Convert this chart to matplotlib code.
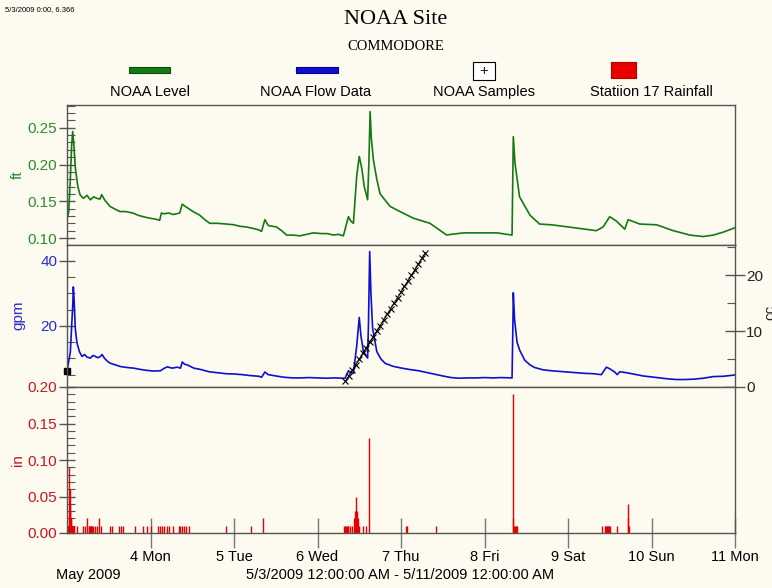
import matplotlib
matplotlib.use("Agg")
import matplotlib.pyplot as plt
from matplotlib.patches import Rectangle
from matplotlib.ticker import MultipleLocator, FixedLocator

# ---- data (x = day of May 2009) ----
level_day = [3.000, 3.020, 3.040, 3.055, 3.068, 3.080, 3.100, 3.130, 3.156, 3.195,
             3.240, 3.280, 3.320, 3.360, 3.395, 3.415, 3.450, 3.515, 3.580, 3.635,
             3.700, 3.790, 3.850, 3.914, 3.990, 4.070, 4.110, 4.130, 4.160, 4.220,
             4.270, 4.350, 4.380, 4.430, 4.510, 4.590, 4.650, 4.710, 4.800, 4.910,
             5.000, 5.070, 5.150, 5.230, 5.300, 5.330, 5.370, 5.410, 5.460, 5.510,
             5.570, 5.630, 5.700, 5.790, 5.870, 5.950, 6.050, 6.120, 6.190, 6.250,
             6.310, 6.370, 6.400, 6.430, 6.470, 6.500, 6.530, 6.560, 6.600, 6.615,
             6.630, 6.645, 6.670, 6.710, 6.750, 6.870, 6.988, 7.147, 7.347, 7.547,
             7.600, 7.750, 7.950, 8.150, 8.330, 8.345, 8.365, 8.420, 8.545, 8.660,
             8.800, 8.940, 9.140, 9.340, 9.420, 9.500, 9.580, 9.680, 9.720, 9.860,
             10.060, 10.260, 10.460, 10.620, 10.740, 10.860, 11.000]
level_ft = [0.125, 0.135, 0.180, 0.225, 0.245, 0.230, 0.195, 0.170, 0.159, 0.154,
            0.158, 0.152, 0.156, 0.154, 0.153, 0.159, 0.152, 0.143, 0.139, 0.136,
            0.136, 0.134, 0.131, 0.129, 0.127, 0.1255, 0.124, 0.134, 0.133, 0.134,
            0.132, 0.134, 0.146, 0.142, 0.136, 0.131, 0.125, 0.120, 0.120, 0.119,
            0.118, 0.116, 0.115, 0.113, 0.111, 0.109, 0.125, 0.117, 0.116, 0.115,
            0.110, 0.104, 0.104, 0.103, 0.105, 0.107, 0.106, 0.106, 0.104, 0.105,
            0.103, 0.129, 0.123, 0.120, 0.185, 0.211, 0.195, 0.170, 0.152, 0.200,
            0.272, 0.235, 0.206, 0.180, 0.160, 0.143, 0.136, 0.127, 0.120, 0.104,
            0.105, 0.107, 0.107, 0.107, 0.104, 0.238, 0.202, 0.156, 0.131, 0.119,
            0.118, 0.116, 0.113, 0.110, 0.115, 0.129, 0.123, 0.112, 0.125, 0.119,
            0.118, 0.110, 0.104, 0.102, 0.104, 0.108, 0.114]

flow_day = [3.000, 3.040, 3.060, 3.070, 3.076, 3.085, 3.100, 3.120, 3.150, 3.180,
            3.210, 3.240, 3.280, 3.310, 3.340, 3.370, 3.400, 3.420, 3.450, 3.490,
            3.520, 3.580, 3.640, 3.720, 3.800, 3.880, 3.960, 4.040, 4.120, 4.160,
            4.200, 4.260, 4.320, 4.360, 4.380, 4.410, 4.440, 4.520, 4.600, 4.700,
            4.800, 4.900, 5.000, 5.100, 5.200, 5.300, 5.330, 5.370, 5.410, 5.500,
            5.600, 5.700, 5.800, 5.900, 6.000, 6.100, 6.200, 6.300, 6.330, 6.370,
            6.400, 6.430, 6.470, 6.500, 6.520, 6.550, 6.600, 6.610, 6.625, 6.640,
            6.660, 6.710, 6.760, 6.810, 6.900, 7.010, 7.100, 7.210, 7.300, 7.410,
            7.500, 7.600, 7.700, 7.800, 7.900, 8.000, 8.100, 8.200, 8.330, 8.340,
            8.345, 8.360, 8.390, 8.420, 8.480, 8.545, 8.600, 8.700, 8.800, 8.900,
            9.000, 9.100, 9.200, 9.300, 9.400, 9.420, 9.460, 9.500, 9.560, 9.590,
            9.620, 9.700, 9.800, 9.900, 10.000, 10.100, 10.200, 10.300, 10.400, 10.500,
            10.620, 10.740, 10.860, 11.000]
flow_gpm = [6.0, 12.0, 22.0, 27.0, 32.0, 28.0, 19.0, 14.7, 12.0, 10.6,
            11.2, 10.4, 10.1, 10.9, 10.6, 10.2, 10.6, 11.2, 10.0, 9.0,
            8.5, 8.0, 7.5, 7.2, 7.0, 6.6, 6.3, 6.1, 6.2, 6.9,
            7.4, 7.0, 7.3, 7.0, 8.9, 8.2, 8.0, 7.0, 6.6, 5.9,
            5.6, 5.3, 5.2, 5.0, 4.7, 4.5, 4.2, 5.8, 5.0, 4.6,
            4.2, 4.0, 4.0, 4.1, 4.0, 3.9, 4.0, 3.9, 3.9, 6.2,
            5.6, 5.4, 14.0, 22.6, 17.0, 12.1, 10.1, 20.0, 42.9, 30.0,
            19.3, 12.1, 9.8, 8.5, 7.6, 7.0, 6.6, 6.2, 5.7, 5.1,
            4.6, 4.1, 3.9, 4.0, 4.0, 4.1, 4.0, 4.1, 4.0, 20.0,
            30.2, 22.0, 15.0, 12.6, 9.5, 8.0, 7.2, 6.5, 6.2, 6.0,
            5.8, 5.6, 5.4, 5.3, 5.0, 5.8, 7.3, 6.8, 5.8, 5.0,
            5.9, 5.6, 5.1, 4.6, 4.3, 4.0, 3.7, 3.5, 3.5, 3.6,
            3.9, 4.4, 4.5, 4.9]

# hourly samples, hours after 5/3/2009 0:00
sample_hour = [80, 81, 82, 83, 84, 85, 86, 87, 88, 89, 90, 91,
               92, 93, 94, 95, 96, 97, 98, 99, 100, 101, 102, 103]
sample_count = [1, 2, 3, 4, 5, 6, 7, 8, 9, 10, 11, 12,
                13, 14, 15, 16, 17, 18, 19, 20, 21, 22, 23, 24]

rain_day = [3.010, 3.020, 3.025, 3.030, 3.035, 3.040, 3.045, 3.050, 3.060, 3.070,
            3.080, 3.124, 3.196, 3.220, 3.244, 3.260, 3.268, 3.275, 3.283, 3.291,
            3.300, 3.307, 3.335, 3.355, 3.387, 3.403, 3.515, 3.539, 3.623, 3.643,
            3.667, 3.814, 3.914, 3.954, 4.002, 4.094, 4.114, 4.142, 4.166, 4.194,
            4.222, 4.273, 4.337, 4.357, 4.381, 4.401, 4.425, 4.461, 4.900, 5.200,
            5.351, 6.320, 6.330, 6.340, 6.350, 6.360, 6.370, 6.389, 6.417, 6.437,
            6.445, 6.453, 6.461, 6.469, 6.477, 6.485, 6.501, 6.549, 6.581, 6.617,
            7.060, 7.068, 7.415, 8.337, 8.345, 8.357, 8.365, 8.373, 8.381, 8.389,
            9.403, 9.443, 9.451, 9.459, 9.467, 9.475, 9.483, 9.491, 9.503, 9.583,
            9.715, 9.722, 9.734]
rain_in = [0.01, 0.02, 0.09, 0.06, 0.04, 0.03, 0.02, 0.02, 0.01, 0.01,
           0.01, 0.01, 0.01, 0.01, 0.02, 0.01, 0.01, 0.01, 0.01, 0.01,
           0.01, 0.01, 0.01, 0.01, 0.02, 0.01, 0.01, 0.01, 0.01, 0.01,
           0.01, 0.01, 0.01, 0.01, 0.01, 0.01, 0.01, 0.01, 0.01, 0.01,
           0.01, 0.01, 0.01, 0.01, 0.01, 0.01, 0.01, 0.01, 0.01, 0.01,
           0.02, 0.01, 0.01, 0.01, 0.01, 0.01, 0.01, 0.01, 0.01, 0.02,
           0.02, 0.03, 0.05, 0.03, 0.02, 0.02, 0.01, 0.01, 0.01, 0.13,
           0.01, 0.01, 0.01, 0.19, 0.02, 0.01, 0.01, 0.01, 0.01, 0.01,
           0.01, 0.01, 0.01, 0.01, 0.01, 0.01, 0.01, 0.01, 0.01, 0.01,
           0.04, 0.02, 0.01]

day_ticks = [4, 5, 6, 7, 8, 9, 10, 11]
day_labels = ["4 Mon", "5 Tue", "6 Wed", "7 Thu", "8 Fri", "9 Sat", "10 Sun", "11 Mon"]

legend_names = ["NOAA Level", "NOAA Flow Data", "NOAA Samples", "Statiion 17 Rainfall"]

# ---- style ----
W, H = 772, 588
BG = "#fdfaf0"
GREEN = "#137a13"
BLUE = "#0f0fd0"
RED = "#e80000"
GREEN_TXT = "#2d8a2d"
BLUE_TXT = "#2a2ad0"
RED_TXT = "#c8161e"
SPINE = "#555555"
SANS = ["Liberation Sans", "DejaVu Sans"]
SERIF = ["Liberation Serif", "DejaVu Serif"]

plt.rcParams["font.family"] = SANS


def fx(x):
    return x / W


def fy(y):
    return 1 - y / H


def add_panel(fig, top, bottom):
    ax = fig.add_axes([fx(67), fy(bottom), (735 - 67) / W, (bottom - top) / H])
    ax.set_facecolor(BG)
    ax.set_xlim(3, 11)
    for s in ax.spines.values():
        s.set_color(SPINE)
        s.set_linewidth(1.0)
    ax.tick_params(axis="x", bottom=False, labelbottom=False)
    ax.tick_params(axis="y", which="major", direction="inout", length=12,
                   width=1, color=SPINE, labelsize=11, pad=1)
    ax.tick_params(axis="y", which="minor", direction="in", length=6,
                   width=0.8, color=SPINE)
    return ax


def main():
    fig = plt.figure(figsize=(W / 100, H / 100), dpi=100, facecolor=BG)

    # header
    fig.text(fx(5), fy(10), "5/3/2009 0:00, 6.366", fontsize=5.5, va="center")
    fig.text(fx(396), fy(20), "NOAA Site", family=SERIF, fontsize=16,
             ha="center", va="center")
    fig.text(fx(396), fy(46), "COMMODORE", family=SERIF, fontsize=10.5,
             ha="center", va="center")

    # legend, handle above label
    centers = [150, 316, 484, 651]
    fig.add_artist(Rectangle((fx(129), fy(73)), 41 / W, 6 / H, transform=fig.transFigure,
                             facecolor=GREEN, edgecolor="#0c4f0c", lw=0.8))
    fig.add_artist(Rectangle((fx(296), fy(73)), 42 / W, 6 / H, transform=fig.transFigure,
                             facecolor=BLUE, edgecolor="#00008a", lw=0.8))
    fig.add_artist(Rectangle((fx(473), fy(80)), 22 / W, 18 / H, transform=fig.transFigure,
                             facecolor="white", edgecolor="black", lw=0.8))
    fig.text(fx(484), fy(71), "+", fontsize=11, ha="center", va="center", color="#222")
    fig.add_artist(Rectangle((fx(611), fy(78)), 25 / W, 16 / H, transform=fig.transFigure,
                             facecolor=RED, edgecolor="#b00000", lw=0.8))
    for cx, name in zip(centers, legend_names):
        fig.text(fx(cx), fy(92), name, fontsize=10.5, ha="center", va="center")

    # level panel
    ax1 = add_panel(fig, 105, 245)
    ax1.plot(level_day, level_ft, color=GREEN, lw=1.2)
    ax1.set_ylim(0.0905, 0.281)
    ax1.yaxis.set_major_locator(FixedLocator([0.10, 0.15, 0.20, 0.25]))
    ax1.yaxis.set_minor_locator(MultipleLocator(0.01))
    ax1.set_yticklabels(["0.10", "0.15", "0.20", "0.25"])
    ax1.tick_params(axis="y", labelcolor=GREEN_TXT)

    # flow panel with samples on the right
    ax2 = add_panel(fig, 245, 387)
    ax2.plot(flow_day, flow_gpm, color=BLUE, lw=1.2)
    ax2.plot(flow_day[0], flow_gpm[0], "s", color="black", ms=4, clip_on=False)
    ax2.set_ylim(1.2, 44.9)
    ax2.yaxis.set_major_locator(FixedLocator([20, 40]))
    ax2.yaxis.set_minor_locator(MultipleLocator(5))
    ax2.tick_params(axis="y", labelcolor=BLUE_TXT)

    ax3 = ax2.twinx()
    ax3.set_xlim(3, 11)
    for s in ax3.spines.values():
        s.set_visible(False)
    sample_day = [3 + h / 24 for h in sample_hour]
    ax3.plot(sample_day, sample_count, color="black", lw=0.7, marker="x",
             ms=4, mew=0.8)
    ax3.set_ylim(0, 25.4)
    ax3.yaxis.set_major_locator(FixedLocator([0, 10, 20]))
    ax3.yaxis.set_minor_locator(MultipleLocator(5))
    ax3.tick_params(axis="y", which="major", direction="inout", length=14,
                    width=1, color=SPINE, labelsize=11, labelcolor="#222", pad=1)
    ax3.tick_params(axis="y", which="minor", direction="in", length=6,
                    width=0.8, color=SPINE)
    ax3.tick_params(axis="x", bottom=False, top=False)
    fig.text(fx(763), fy(312), "cc", fontsize=11, rotation=90, ha="left",
             va="center", color="#222")

    # rainfall panel
    ax4 = add_panel(fig, 387, 533)
    ax4.vlines(rain_day, 0, rain_in, color=RED, lw=1.0)
    ax4.set_ylim(0, 0.20)
    ax4.yaxis.set_major_locator(FixedLocator([0.00, 0.05, 0.10, 0.15, 0.20]))
    ax4.yaxis.set_minor_locator(MultipleLocator(0.01))
    ax4.set_yticklabels(["0.00", "0.05", "0.10", "0.15", "0.20"])
    ax4.tick_params(axis="y", labelcolor=RED_TXT)
    ax4.set_xticks(day_ticks)
    ax4.set_xticklabels(day_labels)
    ax4.tick_params(axis="x", bottom=True, labelbottom=True, direction="inout",
                    length=22, width=1, color="#777", labelsize=10.5, pad=1)

    # axis titles
    fig.text(fx(18), fy(175), "ft", fontsize=11, rotation=90, color=GREEN_TXT,
             ha="center", va="center")
    fig.text(fx(18), fy(315), "gpm", fontsize=11, rotation=90, color=BLUE_TXT,
             ha="center", va="center")
    fig.text(fx(18), fy(460), "in", fontsize=11, rotation=90, color=RED_TXT,
             ha="center", va="center")

    fig.text(fx(88), fy(575), "May 2009", fontsize=10.5, ha="center", va="center")
    fig.text(fx(400), fy(575), "5/3/2009 12:00:00 AM - 5/11/2009 12:00:00 AM",
             fontsize=10.5, ha="center", va="center")

    fig.savefig("out.png", dpi=100, facecolor=BG)


if __name__ == "__main__":
    main()
